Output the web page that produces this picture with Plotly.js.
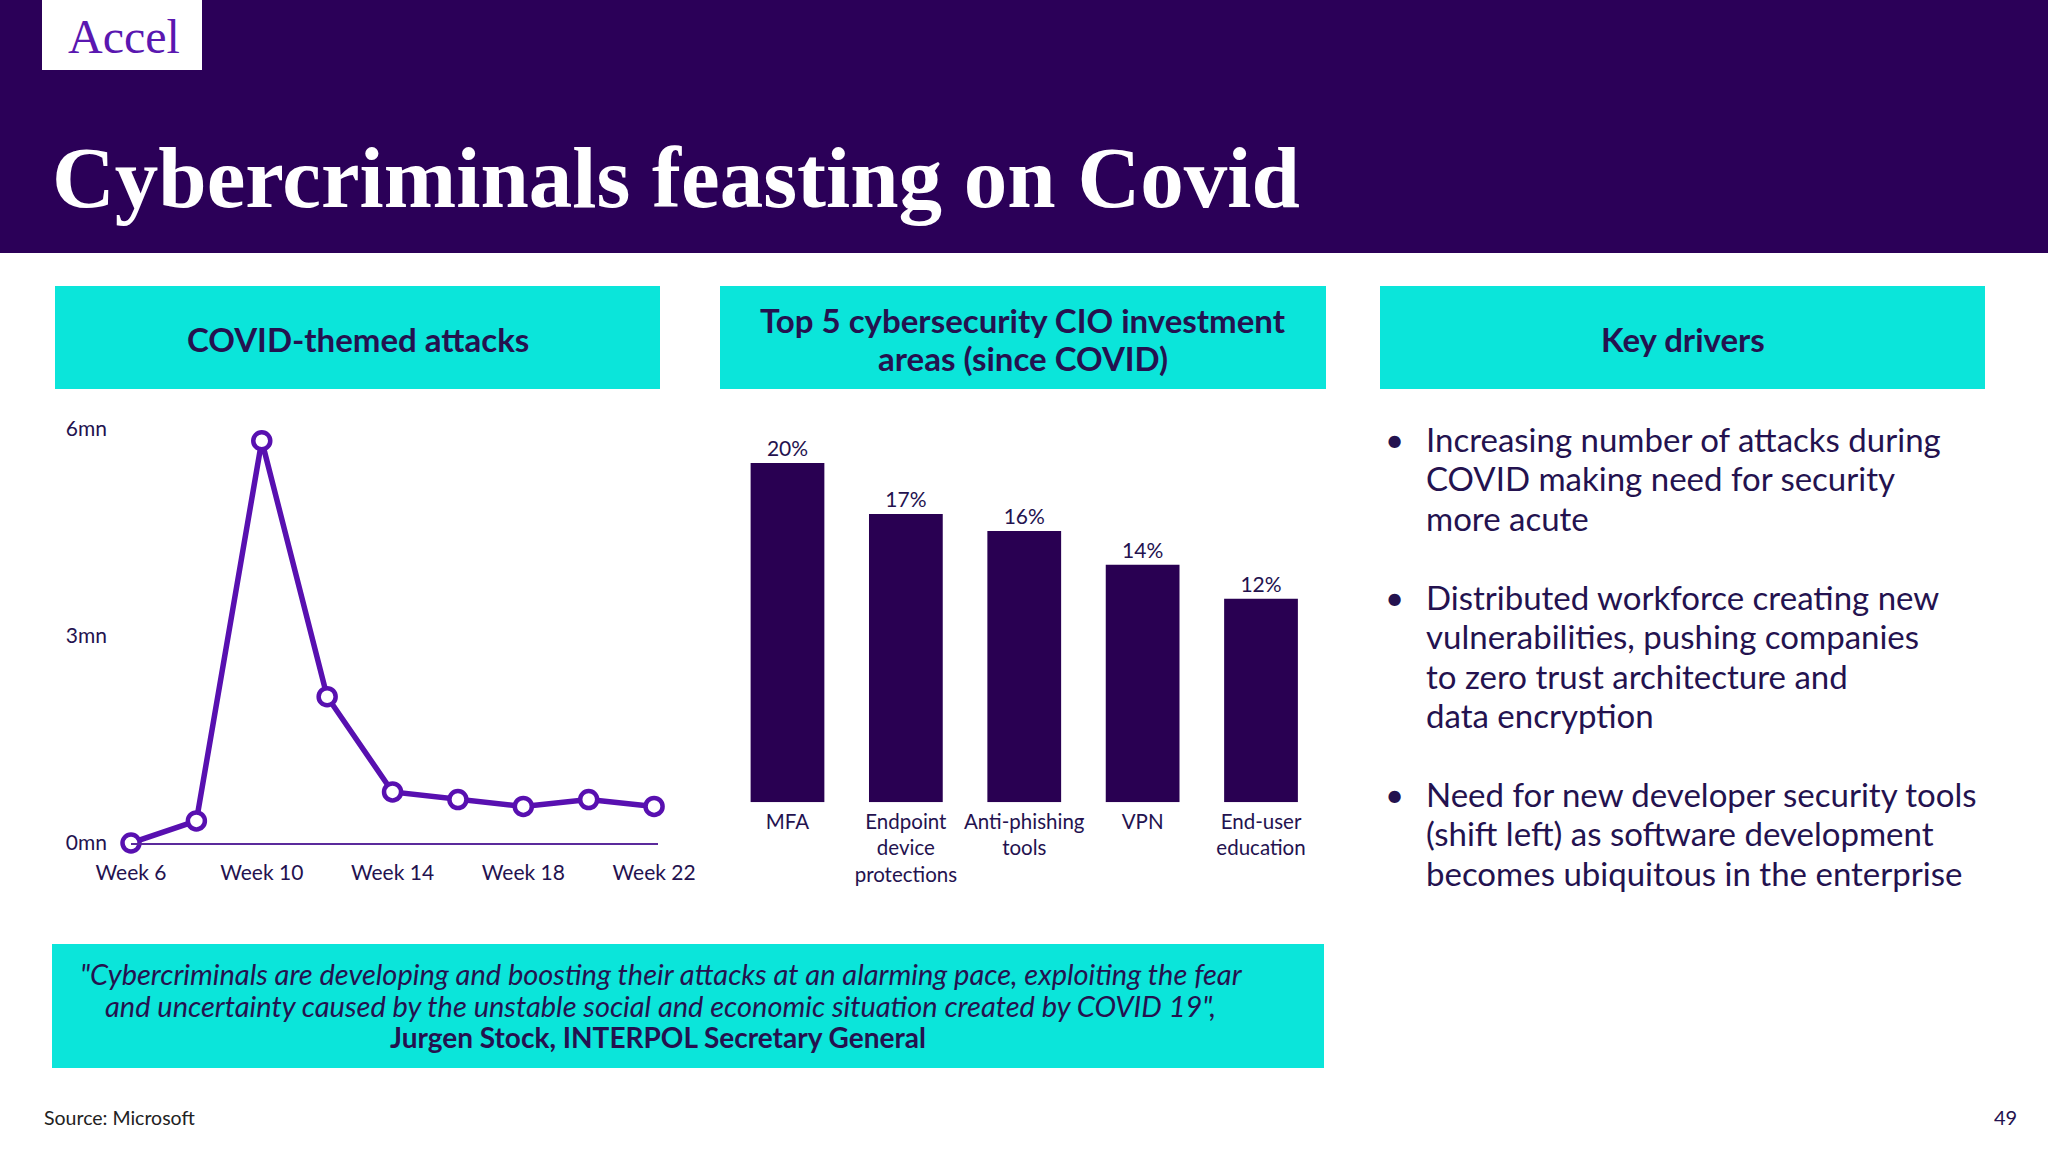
<!DOCTYPE html>
<html>
<head>
<meta charset="utf-8">
<script src="https://cdn.plot.ly/plotly-3.0.1.min.js"></script>
<style>
  html, body { margin: 0; padding: 0; background: #ffffff; }
  #chart { width: 2048px; height: 1152px; }
</style>
</head>
<body>
<div id="chart"></div>
<script>
// ---- Data ----
const weeks = [6, 8, 10, 12, 14, 16, 18, 20, 22];
const attacksMn = [0.0, 0.32, 5.83, 2.12, 0.74, 0.63, 0.53, 0.63, 0.53];
const weekTickVals = [6, 10, 14, 18, 22];
const weekTickText = ['Week 6', 'Week 10', 'Week 14', 'Week 18', 'Week 22'];
const attackTickVals = [0, 3, 6];
const attackTickText = ['0mn', '3mn', '6mn'];

const investAreas = ['MFA', 'Endpoint<br>device<br>protections', 'Anti-phishing<br>tools', 'VPN', 'End-user<br>education'];
const investShares = [20, 17, 16, 14, 12];

const pageTitle = 'Cybercriminals feasting on Covid';
const panelTitleLeft = 'COVID-themed attacks';
const panelTitleMid = ['Top 5 cybersecurity CIO investment', 'areas (since COVID)'];
const panelTitleRight = 'Key drivers';
const keyDrivers = [
  ['Increasing number of attacks during', 'COVID making need for security', 'more acute'],
  ['Distributed workforce creating new', 'vulnerabilities, pushing companies', 'to zero trust architecture and', 'data encryption'],
  ['Need for new developer security tools', '(shift left) as software development', 'becomes ubiquitous in the enterprise']
];
const quoteLines = [
  '"Cybercriminals are developing and boosting their attacks at an alarming pace, exploiting the fear',
  'and uncertainty caused by the unstable social and economic situation created by COVID 19",'
];
const quoteAuthor = 'Jurgen Stock, INTERPOL Secretary General';
const sourceText = 'Source: Microsoft';
const pageNumber = '49';

// ---- Styling ----
const W = 2048, H = 1152;
const px = v => v / W;
const py = v => 1 - v / H;
const NAVY = '#2b0058';
const CYAN = '#0be5da';
const TEXT = '#24124f';
const LINE = '#5810b0';
const FONT = 'Lato, "Noto Sans", sans-serif';

const lineTrace = {
  type: 'scatter', mode: 'lines+markers',
  x: weeks, y: attacksMn,
  xaxis: 'x', yaxis: 'y',
  line: { color: LINE, width: 5.5 },
  marker: { size: 17, color: '#ffffff', line: { color: LINE, width: 4.5 } },
  cliponaxis: false, hoverinfo: 'skip', showlegend: false
};

const barTrace = {
  type: 'bar',
  x: investAreas, y: investShares,
  xaxis: 'x2', yaxis: 'y2',
  marker: { color: '#290052' },
  texttemplate: '%{y}%', textposition: 'outside',
  textfont: { family: FONT, size: 21, color: TEXT },
  cliponaxis: false, hoverinfo: 'skip', showlegend: false
};

function rect(x0, y0, x1, y1, color) {
  return { type: 'rect', xref: 'paper', yref: 'paper', x0: px(x0), x1: px(x1), y0: py(y1), y1: py(y0),
           fillcolor: color, line: { width: 0 }, layer: 'below' };
}

const shapes = [
  rect(0, 0, W, 253, NAVY),
  rect(42, 0, 202, 70, '#ffffff'),
  rect(55, 286, 660, 389, CYAN),
  rect(720, 286, 1326, 389, CYAN),
  rect(1380, 286, 1985, 389, CYAN),
  rect(52, 944, 1324, 1068, CYAN)
];

const annotations = [
  { text: 'Accel', x: px(124), y: py(36), xanchor: 'center', yanchor: 'middle',
    font: { family: '"Liberation Serif", serif', size: 48, color: '#5a17b0' } },
  { text: '<b>' + pageTitle + '</b>', x: px(50), y: py(177), xanchor: 'left', yanchor: 'middle',
    font: { family: '"Liberation Serif", serif', size: 87, color: '#ffffff' } },
  { text: '<b>' + panelTitleLeft + '</b>', x: px(358), y: py(339), xanchor: 'center', yanchor: 'middle',
    font: { family: FONT, size: 33, color: TEXT } },
  { text: '<b>' + panelTitleMid[0] + '</b>', x: px(1023), y: py(320), xanchor: 'center', yanchor: 'middle',
    font: { family: FONT, size: 33, color: TEXT } },
  { text: '<b>' + panelTitleMid[1] + '</b>', x: px(1023), y: py(358), xanchor: 'center', yanchor: 'middle',
    font: { family: FONT, size: 33, color: TEXT } },
  { text: '<b>' + panelTitleRight + '</b>', x: px(1683), y: py(339), xanchor: 'center', yanchor: 'middle',
    font: { family: FONT, size: 33, color: TEXT } },
  { text: '<i>' + quoteLines[0] + '</i>', x: px(661), y: py(973), xanchor: 'center', yanchor: 'middle',
    font: { family: FONT, size: 29, color: TEXT } },
  { text: '<i>' + quoteLines[1] + '</i>', x: px(660), y: py(1005), xanchor: 'center', yanchor: 'middle',
    font: { family: FONT, size: 29, color: TEXT } },
  { text: '<b>' + quoteAuthor + '</b>', x: px(658), y: py(1037), xanchor: 'center', yanchor: 'middle',
    font: { family: FONT, size: 28, color: TEXT } },
  { text: sourceText, x: px(42), y: py(1117), xanchor: 'left', yanchor: 'middle',
    font: { family: FONT, size: 19.5, color: '#222222' } },
  { text: pageNumber, x: px(2005), y: py(1117), xanchor: 'center', yanchor: 'middle',
    font: { family: FONT, size: 20, color: TEXT } }
];

const groupTops = [439, 597, 794];
const lineStep = 39.3;
keyDrivers.forEach((lines, g) => {
  annotations.push({ text: '•', x: px(1394), y: py(groupTops[g]), xanchor: 'center', yanchor: 'middle',
    font: { family: FONT, size: 33, color: TEXT } });
  lines.forEach((t, i) => {
    annotations.push({ text: t, x: px(1424), y: py(groupTops[g] + i * lineStep), xanchor: 'left', yanchor: 'middle',
      font: { family: FONT, size: 33, color: TEXT } });
  });
});
annotations.forEach(a => { a.xref = 'paper'; a.yref = 'paper'; a.showarrow = false; });

const layout = {
  width: W, height: H,
  margin: { l: 0, r: 0, t: 0, b: 0 },
  paper_bgcolor: '#ffffff', plot_bgcolor: 'rgba(0,0,0,0)',
  font: { family: FONT, color: TEXT },
  showlegend: false,
  xaxis: {
    domain: [px(131), px(658)], range: [6, 22.12],
    showgrid: false, zeroline: false,
    showline: true, linecolor: '#5b2a9c', linewidth: 1.5,
    tickvals: weekTickVals, ticktext: weekTickText, ticks: '',
    ticklabelstandoff: 10,
    tickfont: { family: FONT, size: 21, color: TEXT }, fixedrange: true
  },
  yaxis: {
    domain: [py(843), py(429)], range: [0, 6],
    showgrid: false, zeroline: false, showline: false,
    tickvals: attackTickVals, ticktext: attackTickText, ticks: '',
    ticklabelstandoff: 23,
    tickfont: { family: FONT, size: 21, color: TEXT }, fixedrange: true
  },
  xaxis2: {
    domain: [px(728.3), px(1320.2)], anchor: 'y2',
    showgrid: false, zeroline: false, showline: false, ticks: '',
    ticklabelstandoff: 5,
    tickfont: { family: FONT, size: 20.5, color: TEXT }, fixedrange: true
  },
  yaxis2: {
    domain: [py(802.3), py(429.2)], range: [0, 22], anchor: 'x2',
    visible: false, fixedrange: true
  },
  bargap: 0.377,
  shapes: shapes,
  annotations: annotations
};

Plotly.newPlot('chart', [lineTrace, barTrace], layout, { staticPlot: true, displayModeBar: false });
</script>
</body>
</html>
